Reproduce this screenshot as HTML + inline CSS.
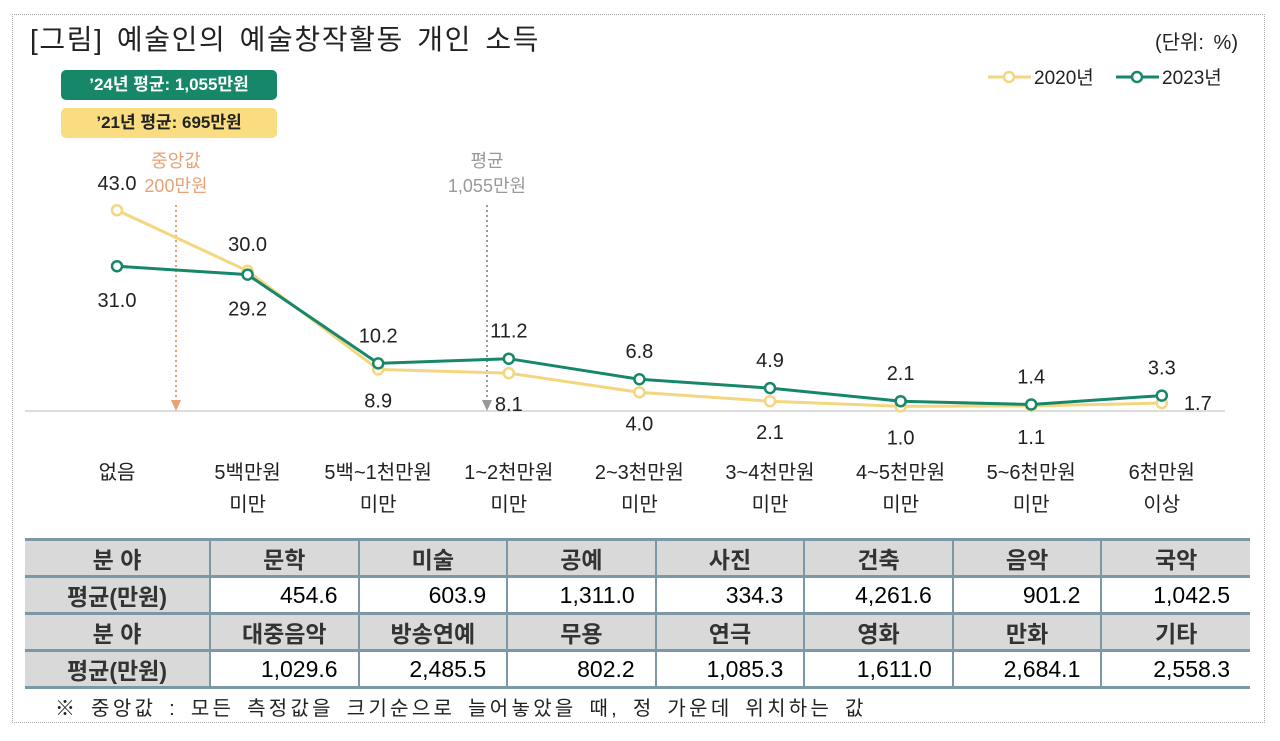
<!DOCTYPE html>
<html><head><meta charset="utf-8">
<style>
body{margin:0;background:#fff;font-family:"Liberation Sans","Noto Sans CJK KR",sans-serif;}
#wrap{position:relative;width:1280px;height:741px;overflow:hidden;}
.frame{position:absolute;left:12px;top:14px;width:1253px;height:709px;border:1px dotted #aaa;box-sizing:border-box;}
.title{position:absolute;left:30px;top:18px;font-size:28px;letter-spacing:1.6px;word-spacing:4px;color:#222;}
.unit{position:absolute;right:42px;top:26px;font-size:20px;word-spacing:4px;color:#222;}
.box{position:absolute;left:61px;width:216px;height:30px;border-radius:5px;font-weight:bold;font-size:17px;text-align:center;line-height:30px;}
table{position:absolute;left:25px;top:538px;width:1225px;border-collapse:collapse;font-size:23px;table-layout:fixed;}
td{border-left:2px solid #7c98a6;border-right:2px solid #7c98a6;border-top:3px solid #7c98a6;border-bottom:3px solid #7c98a6;height:33px;padding:0 20px;}
td:first-child{border-left:none}td:last-child{border-right:none}
tr.h td{background:#d9d9d9;font-weight:bold;text-align:center;color:#333}
tr.v td{text-align:right;}
tr.v td:first-child{background:#d9d9d9;font-weight:bold;text-align:center;color:#333}
.note{position:absolute;left:55px;top:692px;font-size:20px;letter-spacing:3.3px;word-spacing:4px;color:#222;}
</style></head><body>
<div id="wrap">
<div class="frame"></div>
<div class="title">[그림] 예술인의 예술창작활동 개인 소득</div>
<div class="unit">(단위: %)</div>
<div class="box" style="top:70px;background:#17876a;color:#fff">’24년 평균: 1,055만원</div>
<div class="box" style="top:108px;background:#fadd80;color:#222">’21년 평균: 695만원</div>
<svg id="chart" width="1280" height="530" style="position:absolute;left:0;top:0"></svg>
<table>
<colgroup><col style="width:185px"><col><col><col><col><col><col><col></colgroup>
<tr class="h"><td>분 야</td><td>문학</td><td>미술</td><td>공예</td><td>사진</td><td>건축</td><td>음악</td><td>국악</td></tr>
<tr class="v"><td>평균(만원)</td><td>454.6</td><td>603.9</td><td>1,311.0</td><td>334.3</td><td>4,261.6</td><td>901.2</td><td>1,042.5</td></tr>
<tr class="h"><td>분 야</td><td>대중음악</td><td>방송연예</td><td>무용</td><td>연극</td><td>영화</td><td>만화</td><td>기타</td></tr>
<tr class="v"><td>평균(만원)</td><td>1,029.6</td><td>2,485.5</td><td>802.2</td><td>1,085.3</td><td>1,611.0</td><td>2,684.1</td><td>2,558.3</td></tr>
</table>
<div class="note">※ 중앙값 : 모든 측정값을 크기순으로 늘어놓았을 때, 정 가운데 위치하는 값</div>
</div>
<script>
const categories1=["없음","5백만원","5백~1천만원","1~2천만원","2~3천만원","3~4천만원","4~5천만원","5~6천만원","6천만원"];
const categories2=["","미만","미만","미만","미만","미만","미만","미만","이상"];
const series2020=[43.0,30.0,8.9,8.1,4.0,2.1,1.0,1.1,1.7];
const series2023=[31.0,29.2,10.2,11.2,6.8,4.9,2.1,1.4,3.3];
const NS="http://www.w3.org/2000/svg";
const svg=document.getElementById('chart');
const x0=117,dx=130.6,base=411,k=4.67;
function xs(i){return x0+i*dx;}
function ys(v){return base-v*k;}
function mk(t,a){const e=document.createElementNS(NS,t);for(const n in a)e.setAttribute(n,a[n]);svg.appendChild(e);return e;}
function txt(x,y,s,opt){const e=mk('text',Object.assign({x:x,y:y,'text-anchor':'middle','font-size':20,fill:'#222','font-family':'"Liberation Sans","Noto Sans CJK KR",sans-serif'},opt||{}));e.textContent=s;return e;}
let e=mk('line',{x1:25,x2:1225,y1:base,y2:base,stroke:'#bbb','stroke-width':1});


function marker(x,col,l1,l2,name){
 const g=mk('g',{});
 
 
 const ln=document.createElementNS(NS,'line');
 [['x1',x],['x2',x],['y1',205],['y2',400],['stroke',col],['stroke-width',2],['stroke-dasharray','2,3']].forEach(a=>ln.setAttribute(a[0],a[1]));g.appendChild(ln);
 const p=document.createElementNS(NS,'path');p.setAttribute('d',`M${x-5},400 L${x+5},400 L${x},411 Z`);p.setAttribute('fill',col);g.appendChild(p);
 svg.appendChild(g);
 txt(x,167,l1,{fill:col,'font-size':18});txt(x,192,l2,{fill:col,'font-size':18});
}
marker(176,'#e8a174','중앙값','200만원','median-marker');
marker(487,'#999','평균','1,055만원','mean-marker');
function series(vals,col,name){
 const pts=vals.map((v,i)=>xs(i)+','+ys(v)).join(' ');
 const pl=mk('polyline',{points:pts,fill:'none',stroke:col,'stroke-width':3});
 
 
 vals.forEach((v,i)=>{const c=mk('circle',{cx:xs(i),cy:ys(v),r:5,fill:'#fff',stroke:col,'stroke-width':2.5});
 
 });
}
series(series2020,'#f3d67f','series-2020');
series(series2023,'#17876a','series-2023');
series2020.forEach((v,i)=>{
 let t;
 if(i<2)t=txt(xs(i),ys(v)-20,v.toFixed(1));
 else if(i==8)t=txt(xs(i)+36,ys(v)+7,v.toFixed(1));
 else t=txt(xs(i),ys(v)+38,v.toFixed(1));
 
 
});
series2023.forEach((v,i)=>{
 let t;
 if(i<2)t=txt(xs(i),ys(v)+41,v.toFixed(1));
 else t=txt(xs(i),ys(v)-21,v.toFixed(1));
 
 
});
categories1.forEach((c,i)=>{
 const t=txt(xs(i),479,c);
 
 
 const t2=txt(xs(i),511,categories2[i]);
 
 
});
function leg(x,col,label,name){
 const g=mk('g',{});
 
 
 const l=document.createElementNS(NS,'line');[['x1',x],['x2',x+43],['y1',77],['y2',77],['stroke',col],['stroke-width',3]].forEach(a=>l.setAttribute(a[0],a[1]));g.appendChild(l);
 const c=document.createElementNS(NS,'circle');[['cx',x+21],['cy',77],['r',5],['fill','#fff'],['stroke',col],['stroke-width',2.5]].forEach(a=>c.setAttribute(a[0],a[1]));g.appendChild(c);
 svg.appendChild(g);
 txt(x+46,84,label,{'text-anchor':'start','font-size':19});
}
leg(988,'#f3d67f','2020년','legend-2020');
leg(1116,'#17876a','2023년','legend-2023');
</script>
</body></html>
